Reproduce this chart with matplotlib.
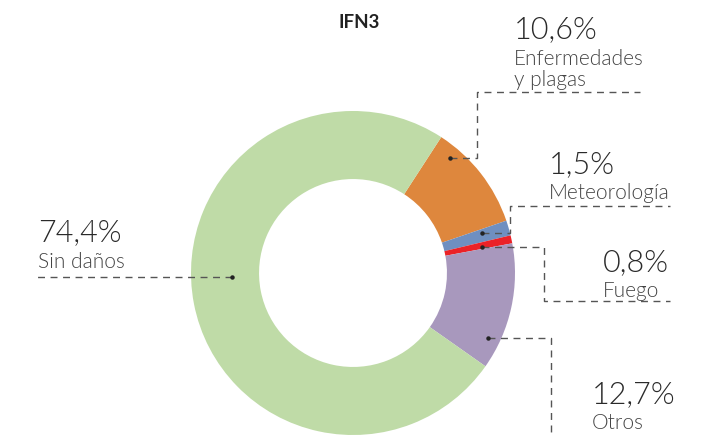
import matplotlib
matplotlib.use("Agg")
import matplotlib.pyplot as plt
from matplotlib import font_manager

plt.rcParams['font.family'] = ['Lato', 'DejaVu Sans']

# daños por causa, inventario IFN3
causas = ['Enfermedades\ny plagas', 'Meteorología', 'Fuego', 'Otros', 'Sin daños']
porcentajes = [10.6, 1.5, 0.8, 12.7, 74.4]
colores = ['#DE873D', '#6F8FC0', '#EB2227', '#A898BD', '#BFDBA7']

# Lato Light si está instalada; si no, la regular
peso = 'normal'
for f in font_manager.fontManager.ttflist:
    if f.name == 'Lato' and f.weight == 300:
        peso = 300
        break

W, H = 703, 439
fig = plt.figure(figsize=(W / 100, H / 100), dpi=100)
ax = fig.add_axes([0, 0, 1, 1])

# el eje y va hacia abajo, así que el sentido "antihorario" se ve horario
cx, cy, r = 353, 274, 162
ax.pie(porcentajes, colors=colores, center=(cx, cy), radius=r,
       startangle=-57.0, counterclock=True,
       wedgeprops=dict(width=r * 0.42, linewidth=0), frame=True)
ax.set_xlim(0, W)
ax.set_ylim(H, 0)
ax.set_aspect('equal')
ax.axis('off')

# líneas guía: del punto en el sector hasta la etiqueta
guias = [
    [(450, 159), (477, 159), (477, 93), (640, 93)],
    [(482, 234), (510, 234), (510, 207), (670, 207)],
    [(482, 248), (544, 248), (544, 302), (670, 302)],
    [(488, 339), (551, 339), (551, 445)],
    [(232, 278), (32, 278)],
]
for g in guias:
    xs, ys = zip(*g)
    ax.plot(xs, ys, color='#555555', lw=1.0, ls=(0, (5, 4)), solid_capstyle='butt')
    ax.plot(xs[0], ys[0], 'o', color='#222222', ms=2.2)

# posición del texto: (x izq, línea base del %, línea base de la etiqueta)
pos_texto = [
    (514, 38, 65),
    (549, 173, 199),
    (603, 271, 297),
    (592, 403, 429),
    (38, 241, 268),
]
for causa, p, (tx, ty_p, ty_l) in zip(causas, porcentajes, pos_texto):
    ax.text(tx, ty_p, f'{p:.1f}%'.replace('.', ','), fontsize=22,
            fontweight=peso, color='#2a2a2a', va='baseline', ha='left')
    for i, linea in enumerate(causa.split('\n')):
        ax.text(tx, ty_l + 21 * i, linea, fontsize=15, fontweight=peso,
                color='#444444', va='baseline', ha='left')

ax.text(359, 28, 'IFN3', fontsize=13.5, fontweight='bold', color='#222222',
        ha='center', va='baseline')

fig.savefig('out.png', dpi=100)
